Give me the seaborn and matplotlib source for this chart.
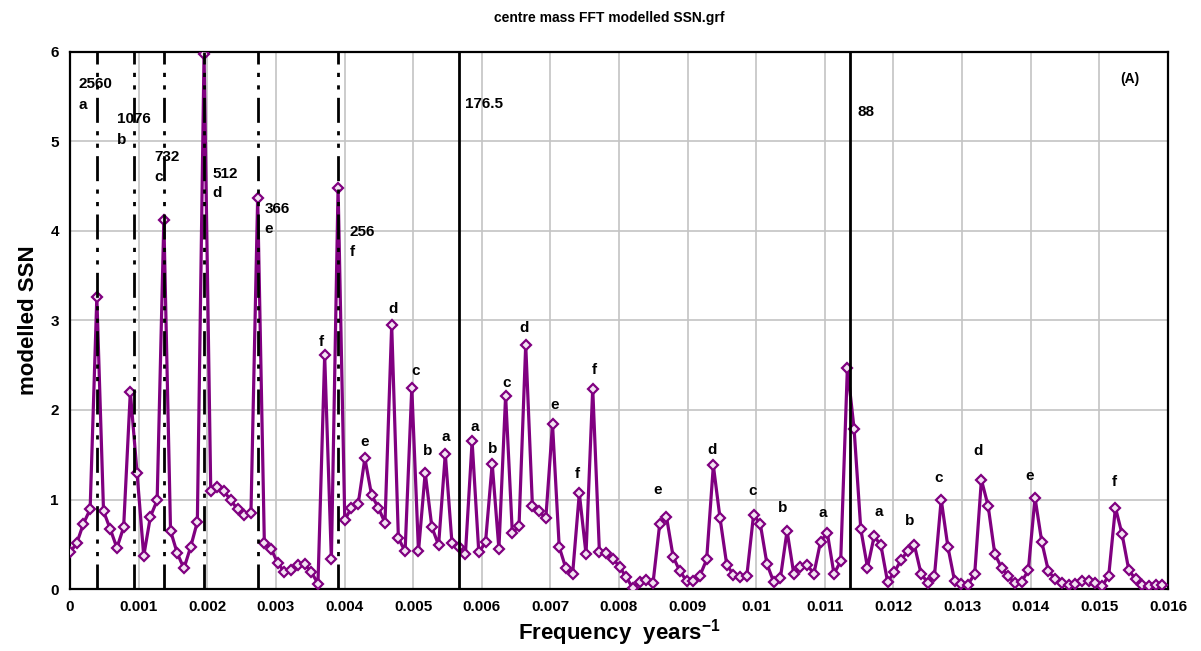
import numpy as np
import pandas as pd
import matplotlib
matplotlib.use("Agg")
import matplotlib.pyplot as plt
import seaborn as sns

# ---------------- data ----------------
ssn = [0.41, 0.51, 0.73, 0.89, 3.26, 0.87, 0.67, 0.46, 0.69, 2.20,
       1.30, 0.37, 0.81, 0.99, 4.12, 0.65, 0.40, 0.23, 0.47, 0.75,
       5.98, 1.10, 1.14, 1.09, 0.99, 0.89, 0.83, 0.85, 4.37, 0.51,
       0.45, 0.29, 0.19, 0.21, 0.27, 0.28, 0.19, 0.06, 2.61, 0.33,
       4.48, 0.77, 0.91, 0.95, 1.46, 1.05, 0.91, 0.74, 2.95, 0.57,
       0.42, 2.25, 0.42, 1.30, 0.69, 0.49, 1.51, 0.51, 0.47, 0.39,
       1.65, 0.41, 0.52, 1.40, 0.45, 2.16, 0.63, 0.70, 2.73, 0.93,
       0.87, 0.79, 1.84, 0.47, 0.23, 0.17, 1.07, 0.39, 2.24, 0.41,
       0.40, 0.34, 0.25, 0.13, 0.01, 0.08, 0.10, 0.07, 0.73, 0.81,
       0.36, 0.20, 0.09, 0.09, 0.15, 0.33, 1.38, 0.79, 0.27, 0.16,
       0.13, 0.15, 0.83, 0.73, 0.28, 0.08, 0.12, 0.65, 0.17, 0.25,
       0.27, 0.17, 0.53, 0.63, 0.17, 0.31, 2.47, 1.79, 0.67, 0.24,
       0.59, 0.49, 0.08, 0.19, 0.32, 0.43, 0.49, 0.17, 0.07, 0.15,
       1.00, 0.47, 0.09, 0.06, 0.05, 0.17, 1.22, 0.93, 0.39, 0.24,
       0.14, 0.07, 0.08, 0.21, 1.02, 0.53, 0.20, 0.11, 0.07, 0.05,
       0.06, 0.09, 0.09, 0.07, 0.03, 0.15, 0.91, 0.61, 0.21, 0.11,
       0.05, 0.03, 0.05, 0.05]
record_length = 10240  # years; frequency resolution 1/10240
freq = np.arange(len(ssn)) / record_length

# periods marked with dash-dot lines and labels
dashdot_periods = [2560, 1076, 732, 512, 366, 256]
dashdot_letters = ["a", "b", "c", "d", "e", "f"]
solid_periods = [176.5, 88]

# period label positions (x, y of number, y of letter)
dd_label_x = [0.000130, 0.000690, 0.001230, 0.002075, 0.002835, 0.004070]
dd_label_y = [5.64, 5.25, 4.83, 4.64, 4.25, 3.99]
dd_letter_y = [5.41, 5.02, 4.60, 4.42, 4.02, 3.76]
solid_label_x = [0.00575, 0.01148]
solid_label_y = [5.42, 5.33]

# letter labels above peaks
peak_letters = ["f", "e", "d", "c", "b", "a", "a", "b", "c", "d", "e", "f", "f",
                "e", "d", "c", "b", "a", "a", "b", "c", "d", "e", "f"]
peak_letter_x = [0.00366, 0.004294, 0.004711, 0.005039, 0.005211, 0.005471,
                 0.005897, 0.006155, 0.006362, 0.006623, 0.007058, 0.007386,
                 0.007643, 0.008566, 0.009356, 0.009941, 0.010380, 0.010966,
                 0.011790, 0.012237, 0.012662, 0.013232, 0.013981, 0.015225]
peak_letter_y = [2.76, 1.64, 3.13, 2.44, 1.54, 1.70, 1.81, 1.56, 2.30, 2.92,
                 2.06, 1.28, 2.45, 1.11, 1.55, 1.10, 0.90, 0.85, 0.86, 0.76,
                 1.24, 1.54, 1.26, 1.20]

x_ticks = [i / 1000 for i in range(17)]
x_tick_labels = ["0"] + [f"{t:g}" for t in x_ticks[1:]]
y_ticks = [0, 1, 2, 3, 4, 5, 6]

# ---------------- style ----------------
sns.set_style("white")
plt.rcParams["font.family"] = ["Liberation Sans", "DejaVu Sans"]
plt.rcParams["font.weight"] = "bold"
plt.rcParams["text.color"] = "black"
plt.rcParams["axes.labelcolor"] = "black"
plt.rcParams["xtick.color"] = "black"
plt.rcParams["ytick.color"] = "black"
plt.rcParams["axes.unicode_minus"] = False
plt.rcParams["mathtext.fontset"] = "custom"
plt.rcParams["mathtext.bf"] = "Liberation Sans:bold"
plt.rcParams["mathtext.rm"] = "Liberation Sans:bold"

purple = "#800080"

fig = plt.figure(figsize=(12.01, 6.51), dpi=100)
ax = fig.add_axes([0.0583, 0.0952, 0.9142, 0.8250])

df = pd.DataFrame({"freq": freq, "ssn": ssn})
sns.lineplot(data=df, x="freq", y="ssn", ax=ax, color=purple, linewidth=2.3,
             marker="D", markersize=5.5, markeredgewidth=1.6,
             markerfacecolor="#f3e3f3", markeredgecolor=purple, zorder=3)

for p in dashdot_periods:
    ax.axvline(1.0 / p, color="black", linewidth=2.0,
               dashes=(9, 3, 1.5, 3, 1.5, 3), zorder=4)
for p in solid_periods:
    ax.axvline(1.0 / p, color="black", linewidth=2.0, zorder=4)

fs = 11
for p, x, y, ly, let in zip(dashdot_periods, dd_label_x, dd_label_y,
                            dd_letter_y, dashdot_letters):
    ax.text(x, y, str(p), ha="left", va="center", fontsize=fs,
            fontweight="bold", zorder=5)
    ax.text(x, ly, let, ha="left", va="center", fontsize=fs,
            fontweight="bold", zorder=5)
for p, x, y in zip(solid_periods, solid_label_x, solid_label_y):
    ax.text(x, y, f"{p:g}", ha="left", va="center", fontsize=fs,
            fontweight="bold", zorder=5)

for let, x, y in zip(peak_letters, peak_letter_x, peak_letter_y):
    ax.text(x, y, let, ha="center", va="center", fontsize=fs,
            fontweight="bold", zorder=5)

ax.text(0.01545, 5.70, "(A)", ha="center", va="center", fontsize=10,
        fontweight="bold")

ax.set_xlim(0, 0.016)
ax.set_ylim(0, 6)
ax.set_xticks(x_ticks)
ax.set_xticklabels(x_tick_labels, fontsize=11, fontweight="bold")
ax.set_yticks(y_ticks)
ax.set_yticklabels([str(t) for t in y_ticks], fontsize=11, fontweight="bold")
ax.tick_params(axis="both", length=0, pad=8)
ax.grid(True, color="#c4c4c4", linewidth=1.2, zorder=0)
ax.set_axisbelow(True)
for s in ax.spines.values():
    s.set_color("black")
    s.set_linewidth(1.6)

ax.set_xlabel(r"Frequency  years$^{\mathbf{-1}}$", fontsize=16,
              fontweight="bold", labelpad=2)
ax.set_ylabel("modelled SSN", fontsize=16, fontweight="bold", labelpad=8)

fig.text(0.507, 0.972, "centre mass FFT modelled SSN.grf", ha="center",
         va="center", fontsize=10, fontweight="bold")

fig.savefig("out.png", dpi=100)
